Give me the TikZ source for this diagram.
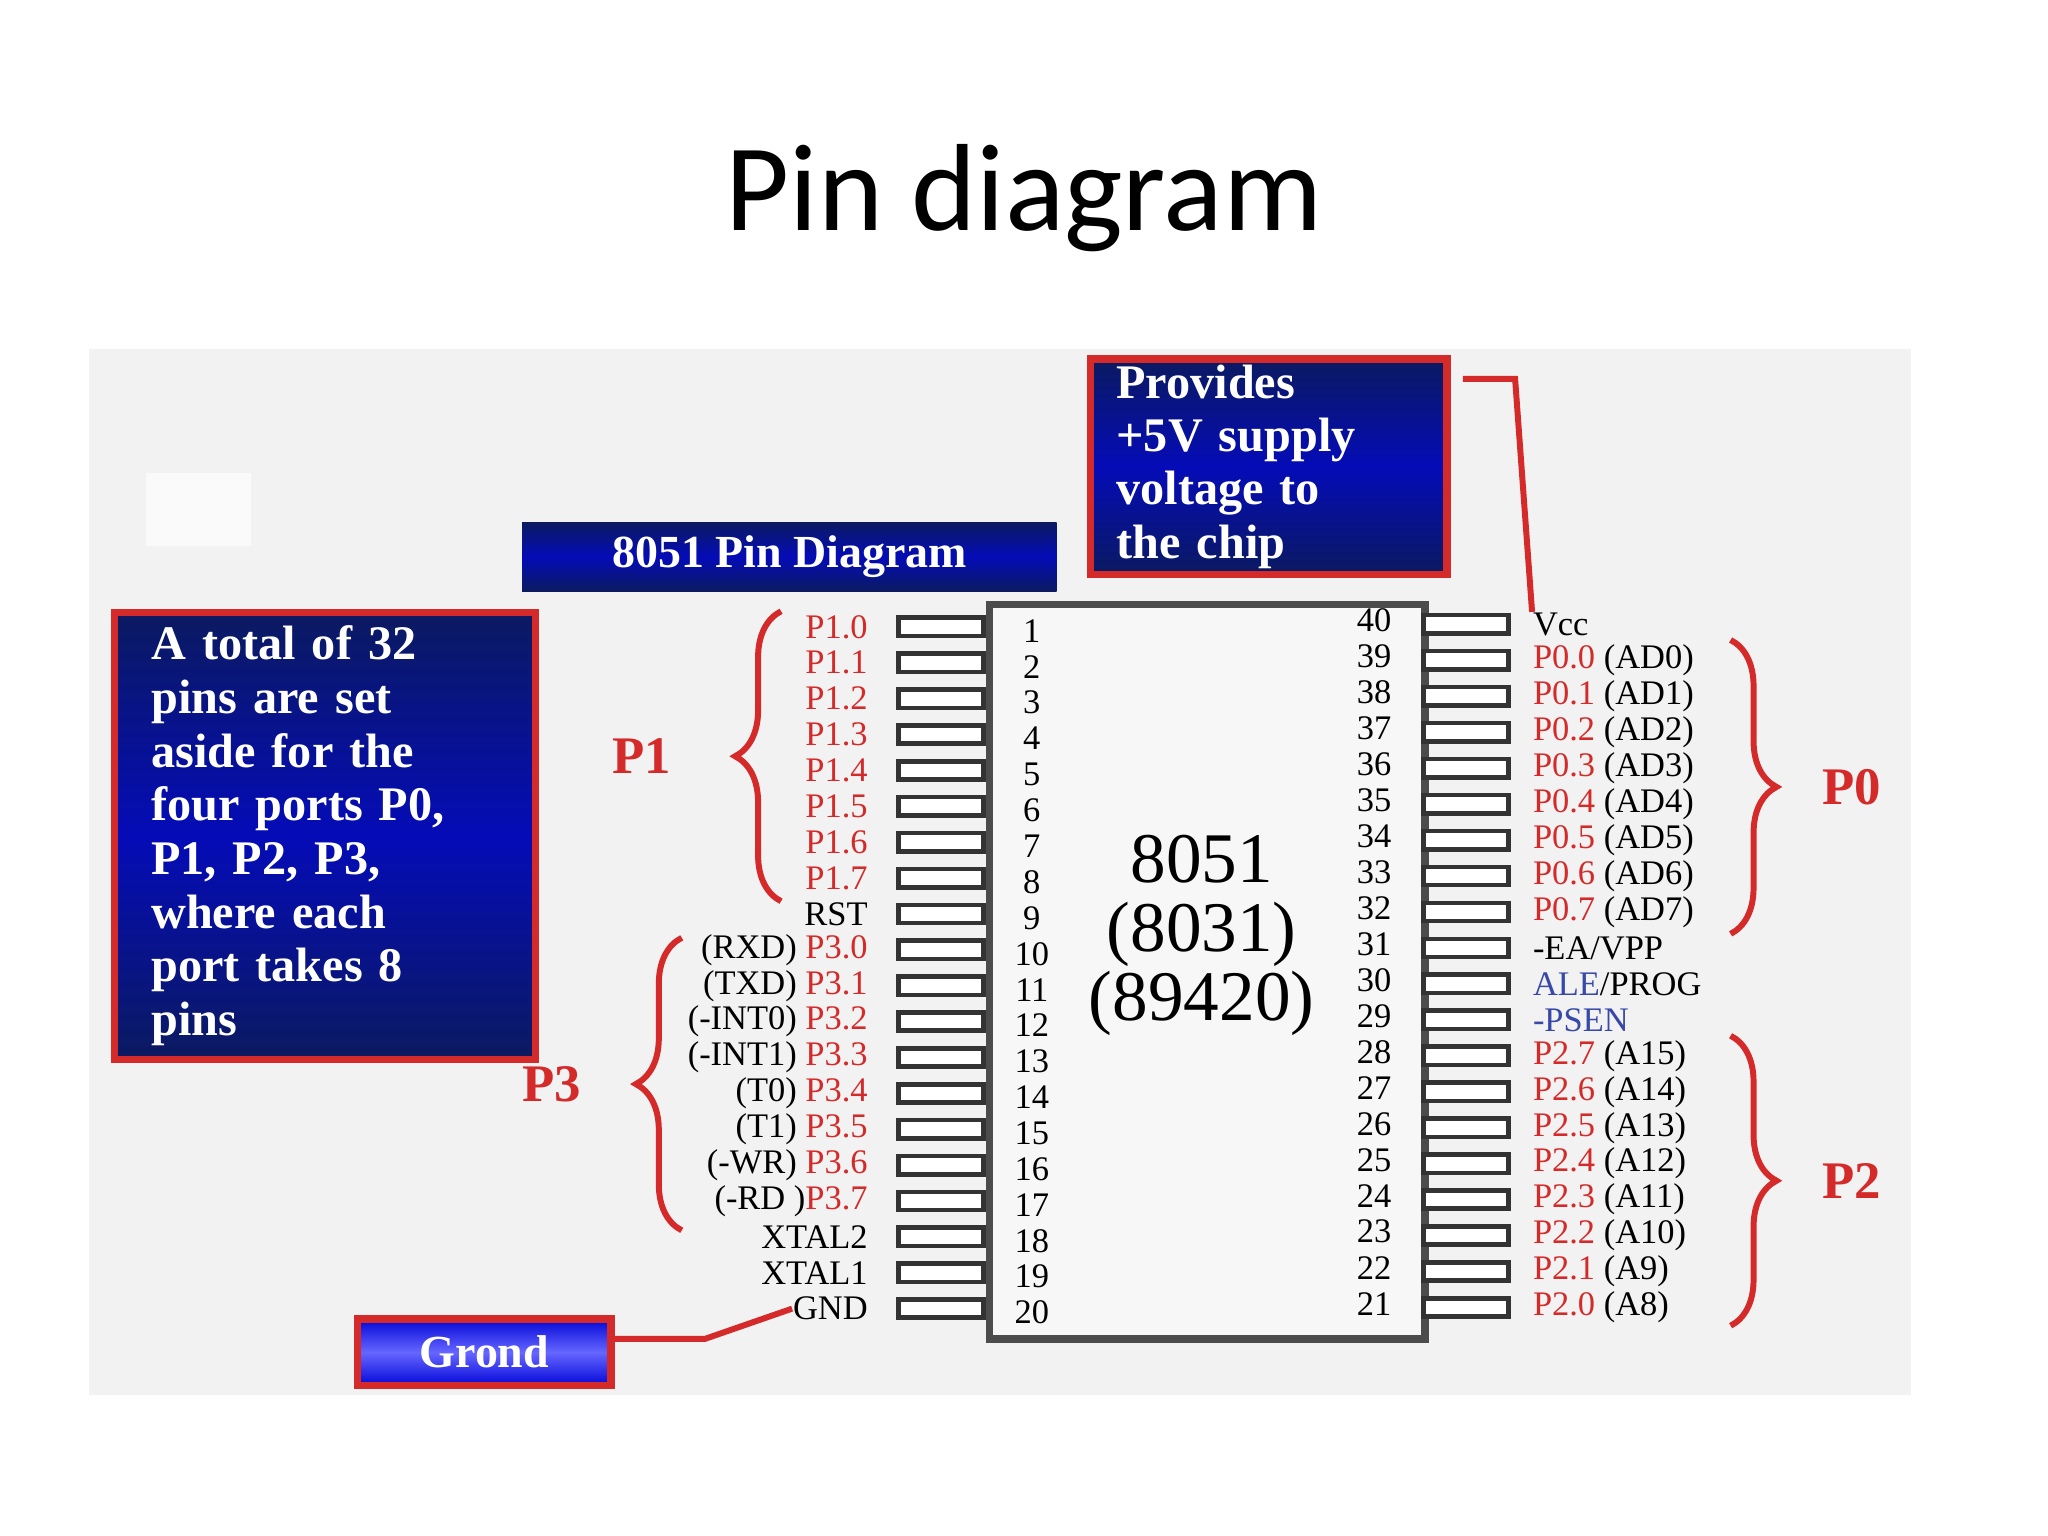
\documentclass[tikz,border=0pt]{standalone}
\usepackage{fontspec}
\setmainfont{Liberation Serif}
\newfontfamily\titlefont{Carlito}
\usetikzlibrary{decorations.pathreplacing}
\definecolor{pred}{HTML}{D42A2A}
\definecolor{pblue}{HTML}{3848A8}
\definecolor{navy}{HTML}{0B1A60}
\tikzset{
 infobox/.style={draw=pred,line width=1.6pt,top color=navy,bottom color=navy,middle color=blue!55!navy,text=white,font=\bfseries\fontsize{10}{13}\selectfont,align=left,inner sep=0pt},
 pin/.style={draw=black!80,fill=white,line width=1pt},
 plab/.style={font=\fontsize{7.5}{9}\selectfont,inner sep=0pt},
 brc/.style={draw=pred,line width=1.3pt,decorate,decoration={brace,amplitude=10pt}},
 blab/.style={text=pred,font=\bfseries\fontsize{11.5}{12}\selectfont},
}
\begin{document}
\begin{tikzpicture}[x=0.01cm,y=-0.01cm]
\useasboundingbox (0,0) rectangle (1568,1176);
\fill[white] (0,0) rectangle (1568,1176);
\node[font=\titlefont\fontsize{27}{30}\selectfont] (title) at (784,152) {Pin diagram};
\fill[black!5] (68,267) rectangle (1463,1068);
\fill[black!2] (112,362) rectangle (192,418);
% boxes
\node[infobox,draw=none,minimum width=4.09cm,minimum height=0.53cm,anchor=north west,align=center,font=\bfseries\fontsize{10}{11}\selectfont] (hdr) at (397,397) {8051 Pin Diagram};
\node[infobox,minimum width=2.73cm,minimum height=1.65cm,anchor=north west,text width=2.33cm,inner xsep=0.2cm,font=\bfseries\fontsize{10.5}{11.6}\selectfont] (prov) at (832,272) {Provides\\+5V supply\\voltage to\\the chip};
\node[infobox,minimum width=3.22cm,minimum height=3.42cm,anchor=north west,text width=2.66cm,inner xsep=0.28cm,font=\bfseries\fontsize{10.5}{11.7}\selectfont] (tot) at (85,466) {A total of 32\\pins are set\\aside for the\\four ports P0,\\P1, P2, P3,\\where each\\port takes 8\\pins};
\node[infobox,top color=blue!75!navy,bottom color=blue!75!navy,middle color=blue!60,minimum width=1.94cm,minimum height=0.51cm,anchor=north west,align=center] (grond) at (271,1007) {Grond};
% chip
\node[draw=black!70,line width=1.6pt,minimum width=3.33cm,minimum height=5.62cm,anchor=north west,fill=black!3] (chip) at (755,460) {};
\node[align=center,font=\fontsize{15.5}{15}\selectfont] (cname) at (920,716) {8051\\(8031)\\(89420)};
% left pins
\foreach \i/\lab in {1/{\color{pred}P1.0},2/{\color{pred}P1.1},3/{\color{pred}P1.2},4/{\color{pred}P1.3},5/{\color{pred}P1.4},6/{\color{pred}P1.5},7/{\color{pred}P1.6},8/{\color{pred}P1.7},9/RST,10/{(RXD) \color{pred}P3.0},11/{(TXD) \color{pred}P3.1},12/{(-INT0) \color{pred}P3.2},13/{(-INT1) \color{pred}P3.3},14/{(T0) \color{pred}P3.4},15/{(T1) \color{pred}P3.5},16/{(-WR) \color{pred}P3.6},17/{(-RD )\color{pred}P3.7},18/XTAL2,19/XTAL1,20/GND}{
 \pgfmathsetmacro\yy{480+(\i-1)*27.47}
 \draw[pin] (688,\yy-7) rectangle (753,\yy+7);
 \node[plab,anchor=east] (L\i) at (665,\yy) {\lab};
 \node[plab] (N\i) at (790,\yy+3) {\i};
}
% right pins
\foreach \k/\lab in {40/Vcc,39/{\color{pred}P0.0\color{black}\ (AD0)},38/{\color{pred}P0.1\color{black}\ (AD1)},37/{\color{pred}P0.2\color{black}\ (AD2)},36/{\color{pred}P0.3\color{black}\ (AD3)},35/{\color{pred}P0.4\color{black}\ (AD4)},34/{\color{pred}P0.5\color{black}\ (AD5)},33/{\color{pred}P0.6\color{black}\ (AD6)},32/{\color{pred}P0.7\color{black}\ (AD7)},31/{-EA/VPP},30/{\color{pblue}ALE\color{black}/PROG},29/{\color{pblue}-PSEN},28/{\color{pred}P2.7\color{black}\ (A15)},27/{\color{pred}P2.6\color{black}\ (A14)},26/{\color{pred}P2.5\color{black}\ (A13)},25/{\color{pred}P2.4\color{black}\ (A12)},24/{\color{pred}P2.3\color{black}\ (A11)},23/{\color{pred}P2.2\color{black}\ (A10)},22/{\color{pred}P2.1\color{black}\ (A9)},21/{\color{pred}P2.0\color{black}\ (A8)}}{
 \pgfmathsetmacro\yy{478+(40-\k)*27.53}
 \draw[pin] (1090,\yy-7) rectangle (1155,\yy+7);
 \node[plab,anchor=west] (R\k) at (1173,\yy) {\lab};
 \node[plab] (M\k) at (1052,\yy-3) {\k};
}
% braces
\draw[brc] (598,690) -- (598,468) node[midway,left=20pt,blab] (p1) {P1};
\draw[brc] (522,942) -- (522,718) node[midway,left=18pt,blab] (p3) {P3};
\draw[brc] (1325,490) -- (1325,715) node[midway,right=16pt,blab] (p0) {P0};
\draw[brc] (1325,793) -- (1325,1015) node[midway,right=16pt,blab] (p2) {P2};
% connectors
\coordinate (vc) at (1160,290);
\draw[pred,line width=1.3pt] (1120,290) -- (vc) -- (R40.north west);
\coordinate (gc) at (540,1025);
\draw[pred,line width=1.3pt] (grond.east|-gc) -- (gc) -- (L20.west);
\end{tikzpicture}
\end{document}
